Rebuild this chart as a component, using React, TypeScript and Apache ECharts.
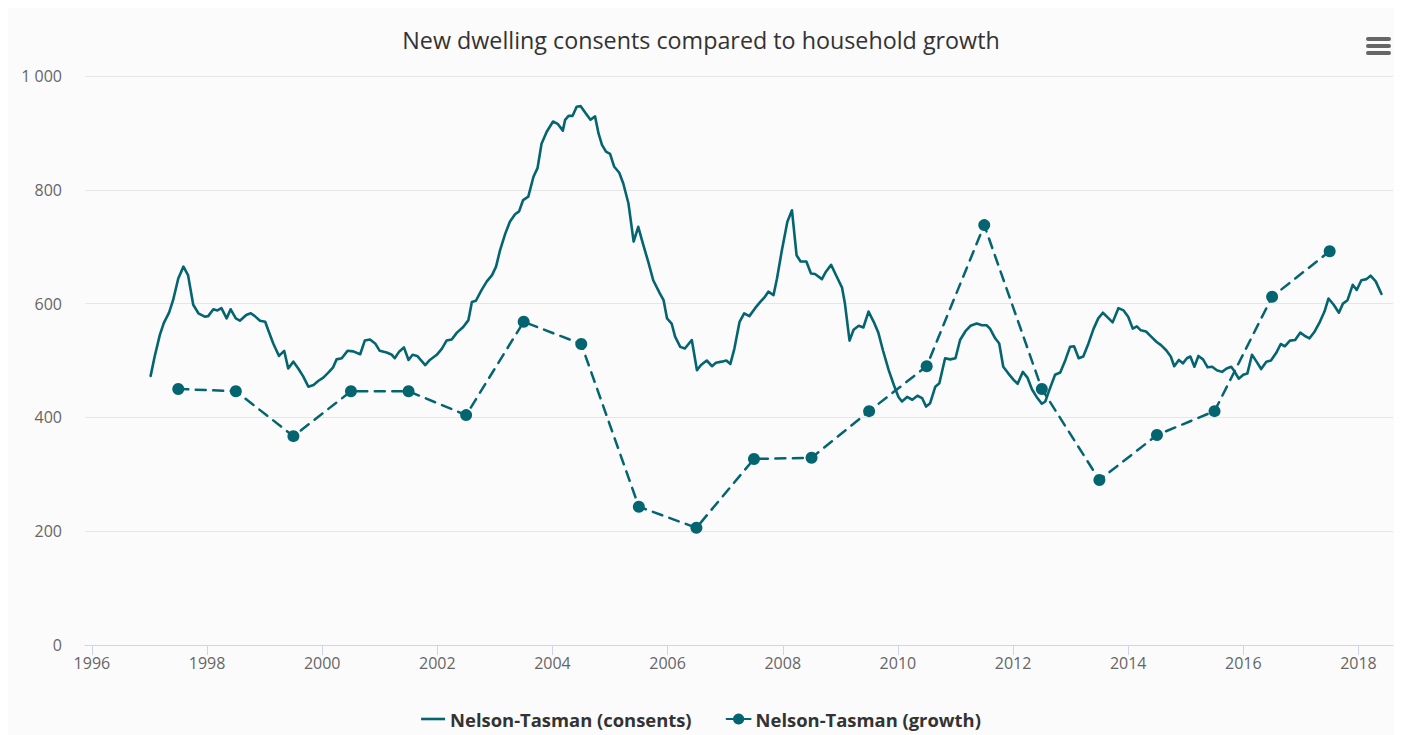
import React, { useEffect, useRef } from "react";
import * as echarts from "echarts";

const consentYears = [
  1997.02, 1997.09, 1997.18, 1997.25, 1997.34, 1997.41, 1997.5, 1997.59, 1997.67, 1997.76, 1997.85, 1997.96,
  1998.02, 1998.11, 1998.18, 1998.25, 1998.34, 1998.41, 1998.5, 1998.57, 1998.68, 1998.76, 1998.83, 1998.92,
  1999.01, 1999.06, 1999.15, 1999.25, 1999.34, 1999.41, 1999.5, 1999.59, 1999.67, 1999.76, 1999.85, 1999.93,
  2000.02, 2000.11, 2000.19, 2000.25, 2000.34, 2000.44, 2000.54, 2000.66, 2000.74, 2000.83, 2000.92,
  2001.0, 2001.12, 2001.21, 2001.26, 2001.34, 2001.42, 2001.5, 2001.57, 2001.65, 2001.79, 2001.87, 2001.99,
  2002.08, 2002.16, 2002.25, 2002.34, 2002.45, 2002.54, 2002.6, 2002.67, 2002.77, 2002.86, 2002.95,
  2003.02, 2003.09, 2003.18, 2003.26, 2003.35, 2003.42, 2003.49, 2003.58, 2003.67, 2003.74, 2003.81, 2003.9,
  2004.01, 2004.09, 2004.18, 2004.22, 2004.28, 2004.35, 2004.42, 2004.49, 2004.58, 2004.66, 2004.74, 2004.8, 2004.86, 2004.93,
  2005.0, 2005.07, 2005.16, 2005.23, 2005.32, 2005.41, 2005.49, 2005.57, 2005.67, 2005.75, 2005.86, 2005.93, 2005.99,
  2006.07, 2006.13, 2006.22, 2006.3, 2006.42, 2006.51, 2006.58, 2006.68, 2006.77, 2006.84, 2006.94,
  2007.02, 2007.09, 2007.16, 2007.25, 2007.33, 2007.42, 2007.52, 2007.61, 2007.69, 2007.75, 2007.84, 2007.9, 2007.98,
  2008.08, 2008.16, 2008.24, 2008.31, 2008.41, 2008.49, 2008.56, 2008.68, 2008.75, 2008.84, 2008.93,
  2009.03, 2009.08, 2009.16, 2009.23, 2009.32, 2009.4, 2009.49, 2009.58, 2009.66, 2009.74, 2009.84, 2009.93,
  2010.01, 2010.07, 2010.16, 2010.25, 2010.34, 2010.42, 2010.49, 2010.56, 2010.65, 2010.72, 2010.82, 2010.91,
  2011.0, 2011.08, 2011.17, 2011.26, 2011.37, 2011.46, 2011.54, 2011.6, 2011.69, 2011.76, 2011.83, 2011.92,
  2012.01, 2012.08, 2012.17, 2012.25, 2012.33, 2012.41, 2012.5, 2012.56, 2012.63, 2012.73, 2012.82, 2012.91, 2012.99,
  2013.06, 2013.14, 2013.22, 2013.31, 2013.4, 2013.48, 2013.56, 2013.63, 2013.73, 2013.83, 2013.92,
  2014.0, 2014.08, 2014.15, 2014.22, 2014.31, 2014.4, 2014.49, 2014.57, 2014.66, 2014.74, 2014.8, 2014.88, 2014.95,
  2015.02, 2015.08, 2015.15, 2015.22, 2015.3, 2015.38, 2015.46, 2015.54, 2015.63, 2015.71, 2015.79, 2015.84, 2015.92,
  2016.0, 2016.07, 2016.15, 2016.23, 2016.31, 2016.4, 2016.48, 2016.57, 2016.65, 2016.72, 2016.81, 2016.9, 2016.99,
  2017.07, 2017.15, 2017.24, 2017.33, 2017.41, 2017.48, 2017.57, 2017.66, 2017.73, 2017.81, 2017.9, 2017.97,
  2018.05, 2018.14, 2018.21, 2018.3, 2018.4,
];

const consentValues = [
  473, 507, 545, 566, 584, 606, 644, 665, 650, 598, 583, 577,
  578, 590, 588, 592, 574, 590, 574, 570, 580, 583, 578, 570,
  568, 554, 530, 508, 517, 486, 498, 485, 472, 454, 457, 464,
  470, 479, 488, 502, 504, 517, 516, 511, 535, 537, 530,
  517, 514, 510, 504, 516, 523, 501, 510, 508, 492, 501, 510,
  521, 535, 537, 549, 559, 571, 603, 605, 624, 639, 650,
  665, 694, 723, 744, 757, 762, 782, 788, 823, 838, 881, 902,
  920, 916, 904, 923, 930, 930, 946, 947, 934, 923, 929, 899, 879, 867,
  863, 841, 830, 811, 776, 709, 735, 706, 671, 641, 619, 606, 574,
  565, 542, 524, 521, 536, 483, 492, 500, 490, 496, 498,
  500, 494, 521, 568, 583, 578, 592, 603, 612, 621, 615, 644, 691,
  744, 764, 685, 674, 674, 653, 652, 643, 656, 668, 649,
  628, 600, 535, 554, 561, 558, 586, 568, 549, 518, 483, 457,
  436, 428, 436, 431, 438, 434, 419, 425, 454, 460, 504, 502,
  504, 536, 551, 561, 565, 562, 562, 556, 539, 530, 489, 477,
  466, 459, 480, 470, 449, 436, 424, 428, 448, 475, 479, 501, 524,
  525, 504, 507, 530, 556, 574, 584, 577, 567, 592, 588,
  577, 556, 560, 553, 551, 542, 533, 527, 518, 507, 490, 501, 495,
  504, 507, 489, 508, 502, 488, 489, 483, 480, 486, 489, 482, 468,
  475, 477, 510, 498, 485, 498, 500, 513, 529, 525, 535, 536, 549,
  543, 539, 551, 568, 586, 609, 598, 584, 600, 606, 633, 624,
  641, 643, 649, 639, 617,
];

const growthYears = [
  1997.5, 1998.5, 1999.5, 2000.5, 2001.5, 2002.5, 2003.5, 2004.5, 2005.5, 2006.5, 2007.5,
  2008.5, 2009.5, 2010.5, 2011.5, 2012.5, 2013.5, 2014.5, 2015.5, 2016.5, 2017.5,
];
const growthValues = [
  450, 446, 367, 446, 446, 404, 568, 529, 243, 206, 327,
  329, 411, 490, 738, 450, 290, 369, 411, 612, 692,
];

const xTickYears = [1996, 1998, 2000, 2002, 2004, 2006, 2008, 2010, 2012, 2014, 2016, 2018];

const TEAL = "#046571";
const FONT = "'Open Sans', 'Noto Sans', sans-serif";
const LINE_ICON = "path://M0,0 M24,14 M0,5.7 L24,5.7 L24,8.3 L0,8.3 Z";

export default function App() {
  const ref = useRef<HTMLDivElement>(null);

  useEffect(() => {
    if (!ref.current) return;
    const chart = echarts.init(ref.current, null, { renderer: "svg" });
    chart.setOption({
      animation: false,
      backgroundColor: "#fbfbfb",
      textStyle: { fontFamily: FONT },
      title: {
        text: "New dwelling consents compared to household growth",
        left: "center",
        top: 15,
        textStyle: { color: "#333333", fontSize: 23.3, fontWeight: "normal", fontFamily: FONT },
      },
      legend: {
        bottom: 2,
        left: "center",
        itemWidth: 24,
        itemHeight: 14,
        itemGap: 34,
        textStyle: { color: "#333333", fontSize: 18.4, fontWeight: "bold", fontFamily: FONT },
        data: [
          { name: "Nelson-Tasman (consents)", icon: LINE_ICON, itemStyle: { color: TEAL } },
          { name: "Nelson-Tasman (growth)" },
        ],
      },
      grid: { left: 77, right: 1, top: 68, bottom: 90, containLabel: false },
      xAxis: {
        type: "value",
        min: 1995.88,
        max: 2018.6,
        splitLine: { show: false },
        axisLine: { show: true, lineStyle: { color: "#ccd6eb", width: 1 } },
        axisTick: {
          show: true,
          length: 10,
          customValues: xTickYears,
          lineStyle: { color: "#ccd6eb", width: 1 },
        },
        axisLabel: {
          customValues: xTickYears,
          color: "#666666",
          fontSize: 16,
          margin: 10,
          fontFamily: FONT,
          formatter: (v: number) => String(Math.round(v)),
        },
      },
      yAxis: {
        type: "value",
        min: 0,
        max: 1000,
        interval: 200,
        axisLine: { show: false },
        axisTick: { show: false },
        splitLine: { show: true, lineStyle: { color: "#e6e6e6", width: 1 } },
        axisLabel: {
          color: "#666666",
          fontSize: 16,
          margin: 23,
          fontFamily: FONT,
          formatter: (v: number) =>
            v >= 1000 ? `${Math.floor(v / 1000)} ${String(v % 1000).padStart(3, "0")}` : String(v),
        },
      },
      series: [
        {
          name: "Nelson-Tasman (consents)",
          type: "line",
          data: consentYears.map((x, i) => [x, consentValues[i]]),
          symbol: "none",
          color: TEAL,
          lineStyle: { color: TEAL, width: 2.6, join: "round", cap: "round" },
          z: 2,
        },
        {
          name: "Nelson-Tasman (growth)",
          type: "line",
          data: growthYears.map((x, i) => [x, growthValues[i]]),
          symbol: "circle",
          symbolSize: 12,
          color: TEAL,
          itemStyle: { color: TEAL },
          lineStyle: { color: TEAL, width: 2.5, type: [10, 7.5], cap: "round" },
          z: 3,
        },
      ],
      graphic: [
        { type: "rect", shape: { x: 1358, y: 29, width: 25, height: 4, r: 2 }, style: { fill: "#666666" } },
        { type: "rect", shape: { x: 1358, y: 36, width: 25, height: 4, r: 2 }, style: { fill: "#666666" } },
        { type: "rect", shape: { x: 1358, y: 43, width: 25, height: 4, r: 2 }, style: { fill: "#666666" } },
      ],
    });
    return () => chart.dispose();
  }, []);

  return <div ref={ref} style={{ width: 1386, height: 727 }} />;
}
